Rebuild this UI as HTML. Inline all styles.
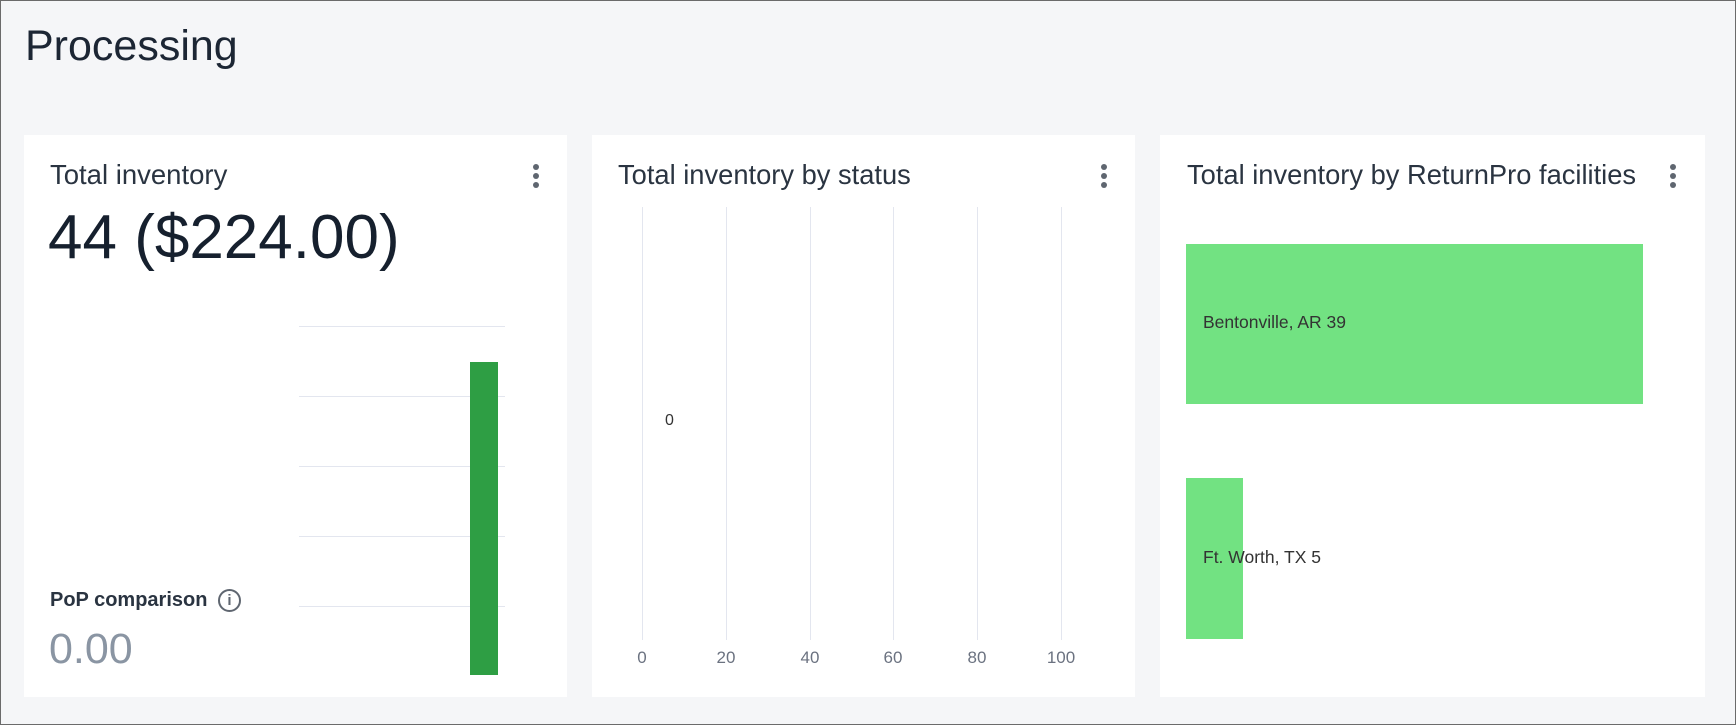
<!DOCTYPE html>
<html><head><meta charset="utf-8"><style>
*{margin:0;padding:0;box-sizing:border-box}
body{width:1736px;height:725px;background:#f5f6f8;font-family:"Liberation Sans",sans-serif;position:relative;overflow:hidden;color:#1c2634}
.frame{position:absolute;left:0;top:0;width:1736px;height:725px;border:1.5px solid #6b6b6b}
.abs{position:absolute;white-space:nowrap}
.card{position:absolute;top:135px;height:562px;background:#fff}
.dots{position:absolute;width:6px}
.dots i{display:block;width:6px;height:6px;border-radius:3px;background:#5f6670;margin-bottom:3px}
.hl{position:absolute;height:1px;background:#e3e6ef}
.vl{position:absolute;width:1px;background:#e3e6ef;top:207px;height:433px}
.tk{position:absolute;top:648px;font-size:17px;color:#6b7280;transform:translateX(-50%)}
.ttl{font-size:27.3px;color:#2a3441;top:159px}
</style></head><body>
<div class="frame"></div>
<div class="abs" style="left:25px;top:22px;font-size:43px;color:#1c2634">Processing</div>

<div class="card" style="left:24px;width:543px"></div>
<div class="card" style="left:592px;width:543px"></div>
<div class="card" style="left:1160px;width:545px"></div>

<div class="abs ttl" style="left:50px;font-size:27.5px">Total inventory</div>
<div class="dots" style="left:533px;top:164px"><i></i><i></i><i></i></div>
<div class="abs" style="left:48px;top:202px;font-size:62px;color:#16202e">44 ($224.00)</div>
<div class="hl" style="left:299px;width:206px;top:326px"></div>
<div class="hl" style="left:299px;width:206px;top:396px"></div>
<div class="hl" style="left:299px;width:206px;top:466px"></div>
<div class="hl" style="left:299px;width:206px;top:536px"></div>
<div class="hl" style="left:299px;width:206px;top:606px"></div>
<div class="abs" style="left:470px;top:362px;width:28px;height:313px;background:#2e9e44"></div>
<div class="abs" style="left:50px;top:589px;font-size:20px;font-weight:bold;color:#2a3441">PoP comparison</div>
<div class="abs" style="left:218px;top:589px;width:23px;height:23px;border:2px solid #5f6670;border-radius:50%;font-size:15px;text-align:center;line-height:19px;color:#5f6670;font-weight:bold">i</div>
<div class="abs" style="left:49px;top:625px;font-size:43px;color:#8a95a3">0.00</div>

<div class="abs ttl" style="left:618px">Total inventory by status</div>
<div class="dots" style="left:1101px;top:164px"><i></i><i></i><i></i></div>
<div class="vl" style="left:642px"></div><div class="vl" style="left:726px"></div><div class="vl" style="left:810px"></div>
<div class="vl" style="left:893px"></div><div class="vl" style="left:977px"></div><div class="vl" style="left:1061px"></div>
<div class="tk" style="left:642px">0</div><div class="tk" style="left:726px">20</div><div class="tk" style="left:810px">40</div>
<div class="tk" style="left:893px">60</div><div class="tk" style="left:977px">80</div><div class="tk" style="left:1061px">100</div>
<div class="abs" style="left:665px;top:412px;font-size:16px;color:#333">0</div>

<div class="abs ttl" style="left:1187px">Total inventory by ReturnPro facilities</div>
<div class="dots" style="left:1670px;top:164px"><i></i><i></i><i></i></div>
<div class="abs" style="left:1186px;top:244px;width:457px;height:160px;background:#72e282"></div>
<div class="abs" style="left:1203px;top:312px;font-size:17.5px;color:#333">Bentonville, AR 39</div>
<div class="abs" style="left:1186px;top:478px;width:57px;height:161px;background:#72e282"></div>
<div class="abs" style="left:1203px;top:547px;font-size:17.5px;color:#333">Ft. Worth, TX 5</div>
</body></html>
